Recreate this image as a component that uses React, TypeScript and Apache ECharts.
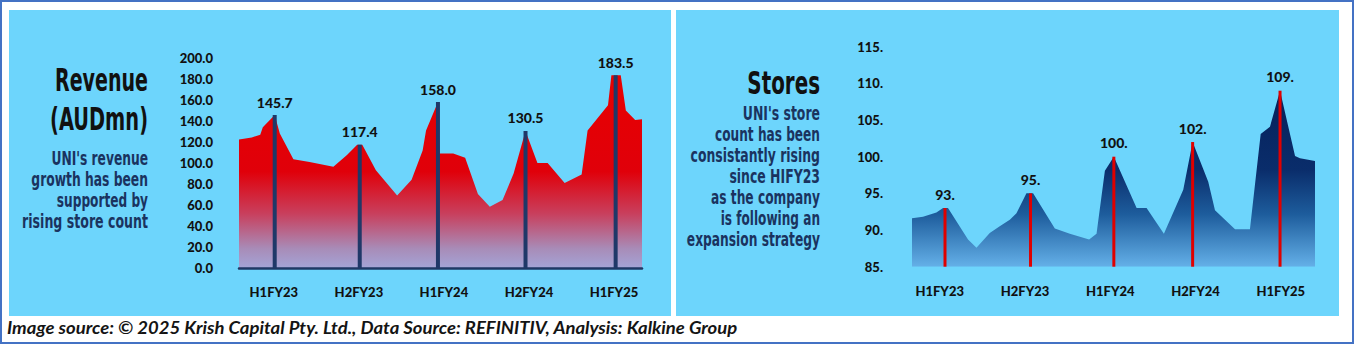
import React, { useEffect, useRef } from "react";
import * as echarts from "echarts";

// ---------- data ----------
const categories = ["H1FY23", "H2FY23", "H1FY24", "H2FY24", "H1FY25"];
const categoryPos = [0, 1, 2, 3, 4];

// Revenue (AUDmn) – trace of the area (x in half-year units, H1FY23 = 0)
const revenueX = [
  -0.41, -0.26, -0.16, -0.13, 0.01, 0.07, 0.23, 0.42, 0.7, 0.86, 0.98, 1.04, 1.2, 1.45, 1.62, 1.75,
  1.79, 1.93, 1.95, 2.11, 2.25, 2.4, 2.54, 2.69, 2.82, 2.96, 3.1, 3.22, 3.42, 3.62, 3.69, 3.93,
  3.97, 4.08, 4.14, 4.25, 4.33,
];
const revenueY = [
  122.5, 124.4, 127, 134, 145.7, 128, 103.5, 101, 96.5, 107.6, 117.4, 117.4, 93, 69, 84, 112,
  131, 158.0, 109, 109, 105, 70.5, 58.4, 64.8, 90, 130.5, 100, 100, 81, 89, 131, 155,
  183.5, 183.5, 150, 141, 141.6,
];
const revenuePeakX = [0.01, 1.01, 1.93, 2.96, 4.02];
const revenuePeakY = [145.7, 117.4, 158.0, 130.5, 183.5];
const revenueTicks = [0, 20, 40, 60, 80, 100, 120, 140, 160, 180, 200];

// Stores
const storesX = [
  -0.325, -0.196, -0.039, 0.039, 0.097, 0.332, 0.431, 0.587, 0.704, 0.822, 0.9, 1.017, 1.095, 1.35,
  1.526, 1.752, 1.839, 1.937, 2.042, 2.309, 2.426, 2.629, 2.856, 2.966, 3.149, 3.228, 3.463, 3.638,
  3.764, 3.873, 3.991, 4.167, 4.225, 4.401,
];
const storesY = [
  91.6, 91.8, 92.4, 93, 93, 88.7, 87.6, 89.6, 90.5, 91.4, 92.3, 95, 95, 90.2,
  89.5, 88.7, 89.5, 98.1, 100, 93, 93, 89.5, 95.5, 102, 96.6, 92.7, 90.1, 90.1,
  103.1, 104.1, 109, 100.1, 99.8, 99.4,
];
const storesPeakX = [0.062, 1.065, 2.042, 2.966, 3.991];
const storesPeakY = [93, 95, 100, 102, 109];
const storesTicks = [85, 90, 95, 100, 105, 110, 115];

const revenueTitle = ["Revenue", "(AUDmn)"];
const revenueNote = ["UNI's revenue", "growth has been", "supported by", "rising store count"];
const storesTitle = ["Stores"];
const storesNote = [
  "UNI's store",
  "count has been",
  "consistantly rising",
  "since HIFY23",
  "as the company",
  "is following an",
  "expansion strategy",
];
const footer =
  "Image source: © 2025 Krish Capital Pty. Ltd., Data Source: REFINITIV, Analysis: Kalkine Group";

// ---------- helpers ----------
const zip = (xs: number[], ys: number[]) => xs.map((x, i) => [x, ys[i]]);

let ctx: CanvasRenderingContext2D | null = null;
function measure(text: string, font: string) {
  if (!ctx) ctx = document.createElement("canvas").getContext("2d");
  if (!ctx) return text.length * 10;
  ctx.font = font;
  return ctx.measureText(text).width;
}

const TITLE_FONT = 'bold 32px "DejaVu Sans Condensed", "DejaVu Sans"';
const NOTE_FONT = 'bold 19px "DejaVu Sans Condensed", "DejaVu Sans"';
const FOOT_FONT = 'italic bold 17px Lato, "DejaVu Sans"';

function fitText(
  text: string,
  font: string,
  x: number,
  y: number,
  width: number,
  fill: string,
  align: "left" | "right"
) {
  const w = measure(text, font);
  return {
    type: "text",
    x,
    y,
    scaleX: width / w,
    z: 10,
    style: { text, font, fill, align, verticalAlign: "middle" },
  };
}

const PANEL = "#6dd5fc";

export default function App() {
  const ref = useRef<HTMLDivElement>(null);

  useEffect(() => {
    if (!ref.current) return;
    const chart = echarts.init(ref.current, undefined, { renderer: "svg" });

    const revTitleW = [93, 98];
    const revTitleY = [80, 119];
    const revNoteW = [96.7, 116.7, 91.3, 126];
    const revNoteY = [159, 180, 201, 222];
    const stNoteW = [77.3, 105, 129.3, 90.7, 109, 99.3, 133.3];
    const stNoteY = [113.3, 135, 156, 176.7, 197.7, 218.3, 239.3];

    const graphics: any[] = [
      { type: "rect", z: -10, shape: { x: 9, y: 10, width: 662, height: 306 }, style: { fill: PANEL } },
      { type: "rect", z: -10, shape: { x: 676, y: 10, width: 663, height: 306 }, style: { fill: PANEL } },
      {
        type: "rect",
        z: 20,
        shape: { x: 1, y: 1, width: 1352, height: 342 },
        style: { fill: "none", stroke: "#4472c4", lineWidth: 2 },
      },
      ...revenueTitle.map((t, i) => fitText(t, TITLE_FONT, 148, revTitleY[i], revTitleW[i], "#111111", "right")),
      ...revenueNote.map((t, i) => fitText(t, NOTE_FONT, 148, revNoteY[i], revNoteW[i], "#1a335f", "right")),
      ...storesTitle.map((t) => fitText(t, TITLE_FONT, 820, 82, 72.7, "#111111", "right")),
      ...storesNote.map((t, i) => fitText(t, NOTE_FONT, 820, stNoteY[i], stNoteW[i], "#1a335f", "right")),
      fitText(footer, FOOT_FONT, 7, 327, 731, "#141414", "left"),
    ];

    const labelFont = { fontFamily: "Lato", fontWeight: 900 as const, fontSize: 13, color: "#111111" };

    chart.setOption({
      animation: false,
      graphic: { elements: graphics },
      grid: [
        { left: 239, top: 58, width: 403, height: 210 },
        { left: 912, top: 46.7, width: 403, height: 220 },
      ],
      xAxis: [
        {
          type: "value",
          gridIndex: 0,
          min: -0.41,
          max: 4.33,
          z: 5,
          axisLine: { show: true, onZero: false, lineStyle: { color: "#1f3864", width: 2.5 } },
          axisTick: { show: false },
          splitLine: { show: false },
          axisLabel: {
            ...labelFont,
            margin: 17,
            customValues: categoryPos,
            formatter: (v: number) => categories[Math.round(v)] ?? "",
          },
        },
        {
          type: "value",
          gridIndex: 1,
          min: -0.325,
          max: 4.401,
          axisLine: { show: false },
          axisTick: { show: false },
          splitLine: { show: false },
          axisLabel: {
            ...labelFont,
            margin: 18,
            customValues: categoryPos,
            formatter: (v: number) => categories[Math.round(v)] ?? "",
          },
        },
      ],
      yAxis: [
        {
          type: "value",
          gridIndex: 0,
          min: revenueTicks[0],
          max: revenueTicks[revenueTicks.length - 1],
          interval: 20,
          axisLine: { show: false },
          axisTick: { show: false },
          splitLine: { show: false },
          axisLabel: { ...labelFont, margin: 26, formatter: (v: number) => v.toFixed(1) },
        },
        {
          type: "value",
          gridIndex: 1,
          min: storesTicks[0],
          max: storesTicks[storesTicks.length - 1],
          interval: 5,
          axisLine: { show: false },
          axisTick: { show: false },
          splitLine: { show: false },
          axisLabel: { ...labelFont, margin: 29, formatter: (v: number) => `${v}.` },
        },
      ],
      series: [
        {
          type: "line",
          z: 2,
          xAxisIndex: 0,
          yAxisIndex: 0,
          data: zip(revenueX, revenueY),
          showSymbol: false,
          lineStyle: { width: 0 },
          areaStyle: {
            opacity: 1,
            color: new echarts.graphic.LinearGradient(0, 0, 0, 1, [
              { offset: 0, color: "#e80000" },
              { offset: 0.5, color: "#e0000a" },
              { offset: 0.72, color: "#c8405e" },
              { offset: 0.9, color: "#a88cb8" },
              { offset: 1, color: "#a4a4d6" },
            ]),
          },
        },
        {
          type: "bar",
          z: 6,
          xAxisIndex: 0,
          yAxisIndex: 0,
          data: zip(revenuePeakX, revenuePeakY),
          barWidth: 4,
          itemStyle: { color: "#1f3868" },
          label: {
            show: true,
            position: "top",
            distance: 6,
            fontFamily: "Lato",
            fontWeight: 900,
            fontSize: 14,
            color: "#111111",
            formatter: (p: any) => Number(p.value[1]).toFixed(1),
          },
        },
        {
          type: "line",
          z: 2,
          xAxisIndex: 1,
          yAxisIndex: 1,
          data: zip(storesX, storesY),
          showSymbol: false,
          lineStyle: { width: 0 },
          areaStyle: {
            opacity: 1,
            color: new echarts.graphic.LinearGradient(0, 0, 0, 1, [
              { offset: 0, color: "#05215a" },
              { offset: 0.45, color: "#0a2d6b" },
              { offset: 0.7, color: "#1d5c9c" },
              { offset: 1, color: "#64b0e8" },
            ]),
          },
        },
        {
          type: "bar",
          z: 6,
          xAxisIndex: 1,
          yAxisIndex: 1,
          data: zip(storesPeakX, storesPeakY),
          barWidth: 3,
          clip: true,
          itemStyle: { color: "#e00000" },
          label: {
            show: true,
            position: "top",
            distance: 7,
            fontFamily: "Lato",
            fontWeight: 900,
            fontSize: 14,
            color: "#111111",
            formatter: (p: any) => `${p.value[1]}.`,
          },
        },
      ],
    });

    return () => chart.dispose();
  }, []);

  return (
    <div
      ref={ref}
      style={{ position: "fixed", left: 0, top: 0, width: 1354, height: 344, background: "#ffffff" }}
    />
  );
}
